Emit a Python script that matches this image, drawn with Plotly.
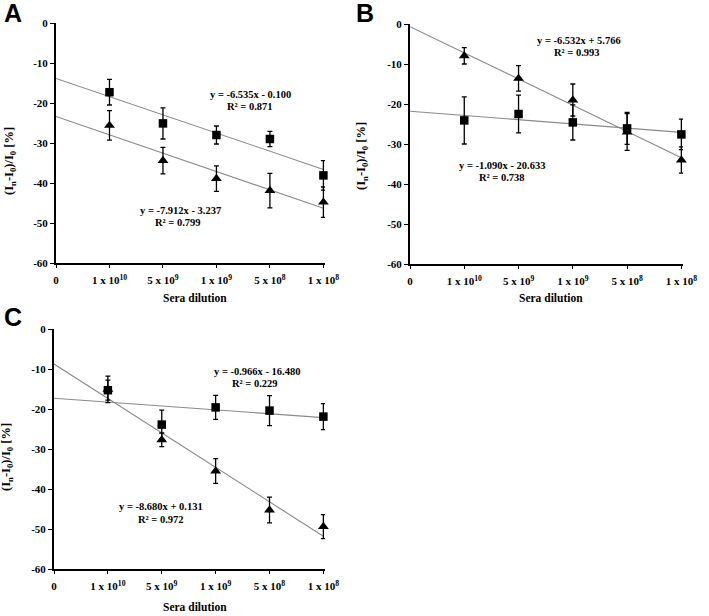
import plotly.graph_objects as go
import numpy as np

W, H = 709, 616

# ---- data ----
x_pos = [1, 2, 3, 4, 5]
x_tickvals = [0, 1, 2, 3, 4, 5]
x_ticktext = ["0", "1 x 10<sup>10</sup>", "5 x 10<sup>9</sup>", "1 x 10<sup>9</sup>",
              "5 x 10<sup>8</sup>", "1 x 10<sup>8</sup>"]
y_tickvals = [0, -10, -20, -30, -40, -50, -60]
y_ticktext = ["0", "-10", "-20", "-30", "-40", "-50", "-60"]

A_square = [-17.3, -25.1, -28.0, -29.0, -38.1]
A_square_err = [3.2, 3.9, 2.25, 1.9, 3.7]
A_triangle = [-25.6, -34.4, -38.9, -41.9, -44.8]
A_triangle_err = [3.7, 3.3, 3.2, 4.3, 3.8]

B_square = [-24.1, -22.5, -24.6, -26.1, -27.6]
B_square_err = [5.9, 4.7, 4.4, 4.0, 3.8]
B_triangle = [-7.95, -13.6, -19.0, -27.0, -34.0]
B_triangle_err = [2.05, 3.2, 4.0, 4.6, 3.3]

C_square = [-15.3, -23.9, -19.6, -20.4, -21.9]
C_square_err = [2.5, 3.6, 3.0, 3.75, 3.25]
C_triangle = [-15.1, -27.7, -35.5, -45.25, -49.4]
C_triangle_err = [3.3, 1.7, 3.1, 3.2, 3.0]

eq_A = [("y = -6.535x - 0.100", "R² = 0.871"), ("y = -7.912x - 3.237", "R² = 0.799")]
eq_B = [("y = -6.532x + 5.766", "R² = 0.993"), ("y = -1.090x - 20.633", "R² = 0.738")]
eq_C = [("y = -0.966x - 16.480", "R² = 0.229"), ("y = -8.680x + 0.131", "R² = 0.972")]

# ---- helpers ----
def px(x):
    return x / W

def py(y):
    return 1 - y / H

SERIF = "Liberation Serif, Times New Roman, serif"
SANS = "Liberation Sans, Arial, sans-serif"

fig = go.Figure()

panels = [
    # name, axis suffix, square, sq_err, tri, tri_err, x domain px, y domain px
    ("A", "", A_square, A_square_err, A_triangle, A_triangle_err, (56, 325), (23, 263)),
    ("B", "2", B_square, B_square_err, B_triangle, B_triangle_err, (410, 683), (24, 264)),
    ("C", "3", C_square, C_square_err, C_triangle, C_triangle_err, (54, 325), (329, 569)),
]

for name, s, sq, sqe, tri, trie, xd, yd in panels:
    xa, ya = "x" + s, "y" + s
    # trendlines (least squares fit of the plotted points)
    for yvals in (sq, tri):
        k, b = np.polyfit(x_pos, yvals, 1)
        xl = np.array([0, 5])
        fig.add_trace(go.Scatter(x=xl, y=k * xl + b, mode="lines",
                                 line=dict(color="#8a8a8a", width=1.1),
                                 xaxis=xa, yaxis=ya, showlegend=False, hoverinfo="skip"))
    fig.add_trace(go.Scatter(
        x=x_pos, y=sq, mode="markers", xaxis=xa, yaxis=ya, showlegend=False, cliponaxis=False,
        marker=dict(symbol="square", size=8.5, color="black"),
        error_y=dict(type="data", array=sqe, visible=True, color="black", thickness=1.3, width=2.5)))
    fig.add_trace(go.Scatter(
        x=x_pos, y=tri, mode="markers", xaxis=xa, yaxis=ya, showlegend=False, cliponaxis=False,
        marker=dict(symbol="triangle-up", size=9.5, color="black"),
        error_y=dict(type="data", array=trie, visible=True, color="black", thickness=1.3, width=2.5)))

axis_font = dict(family=SERIF, size=11, color="black", weight="bold")

layout = dict(
    width=W, height=H, margin=dict(l=0, r=0, t=0, b=0, autoexpand=False),
    paper_bgcolor="white", plot_bgcolor="white", showlegend=False,
)

for name, s, sq, sqe, tri, trie, xd, yd in panels:
    xkey = "xaxis" + s
    ykey = "yaxis" + s
    layout[xkey] = dict(
        domain=[px(xd[0]), px(xd[1])], range=[0, 5.03], anchor="y" + s, automargin=False,
        showline=True, linecolor="black", linewidth=2, showgrid=False, zeroline=False,
        ticks="outside", ticklen=3, tickwidth=1.2, tickcolor="black",
        tickvals=x_tickvals, ticktext=x_ticktext, tickfont=axis_font, ticklabelstandoff=3,
    )
    layout[ykey] = dict(
        domain=[py(yd[1]), py(yd[0])], range=[-60, 0], anchor="x" + s, automargin=False,
        showline=True, linecolor="black", linewidth=2, showgrid=False, zeroline=False,
        ticks="outside", ticklen=4, tickwidth=1.2, tickcolor="black",
        tickvals=y_tickvals, ticktext=y_ticktext, tickfont=axis_font,
    )

annotations = []

def ann(text, x, y, size=10.5, family=SERIF, angle=0, weight="bold"):
    annotations.append(dict(
        text=text, x=px(x), y=py(y), xref="paper", yref="paper",
        xanchor="center", yanchor="middle", showarrow=False, textangle=angle,
        font=dict(family=family, size=size, color="black", weight=weight)))

# panel letters
ann("A", 13, 13, size=25, family=SANS)
ann("B", 365, 13, size=25, family=SANS)
ann("C", 12.5, 317, size=25, family=SANS)

# axis titles
ytitle = "(I<sub>n</sub>-I<sub>0</sub>)/I<sub>0</sub> [%]"
ann(ytitle, 10, 161, size=12.5, angle=-90)
ann(ytitle, 362, 156, size=12.5, angle=-90)
ann(ytitle, 7, 457, size=12.5, angle=-90)
ann("Sera dilution", 195, 298, size=11.5)
ann("Sera dilution", 551, 298, size=11.5)
ann("Sera dilution", 195, 607, size=11.5)

# equations
eq_pos = [
    (eq_A[0], (250, 94.3), (250, 106.7)),
    (eq_A[1], (180, 211), (178, 222)),
    (eq_B[0], (579, 40.7), (577, 52.7)),
    (eq_B[1], (502, 165.7), (502, 177.7)),
    (eq_C[0], (257, 371), (255, 383.3)),
    (eq_C[1], (161, 506.7), (161, 519.3)),
]
for (l1, l2), p1, p2 in eq_pos:
    ann(l1, *p1)
    ann(l2, *p2)

layout["annotations"] = annotations
fig.update_layout(**layout)

fig.write_html("out.html", config={"displayModeBar": False},
               post_script="document.body.style.margin='0px';document.body.style.overflow='hidden';")
